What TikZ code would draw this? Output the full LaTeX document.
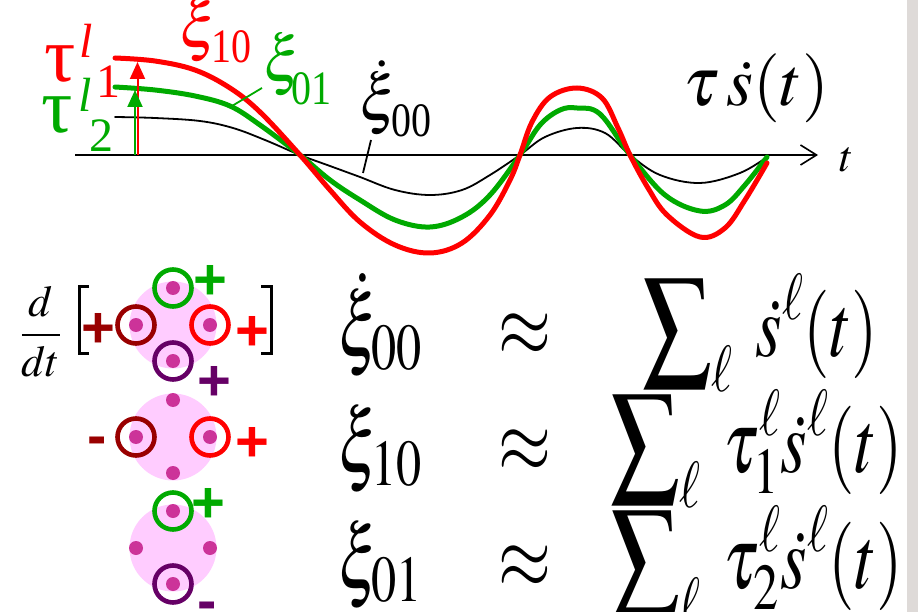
\documentclass[tikz,border=0pt]{standalone}
\usepackage{mathptmx}
\usepackage[no-math]{fontspec}
\setmainfont{Liberation Serif}
\newfontfamily\signfont{Liberation Sans}
\usepackage{graphicx}
\usetikzlibrary{arrows.meta}
\definecolor{wvred}{RGB}{255,0,0}
\definecolor{wvgreen}{RGB}{0,170,0}
\definecolor{wvdarkred}{RGB}{153,0,0}
\definecolor{wvpurple}{RGB}{102,0,102}
\definecolor{wvspot}{RGB}{204,51,153}
\definecolor{wvpink}{RGB}{255,204,255}
\definecolor{wvgrey}{RGB}{222,218,216}
% stretched formula text of the three rows
\newcommand{\eqn}[1]{{\fontsize{68}{80}\selectfont\scalebox{1}[1.3]{$\displaystyle #1$}}}
\newcommand{\lbl}[2]{{\fontsize{#1}{#1}\selectfont$#2$}}
\newcommand{\idxlbl}[1]{\scalebox{1}[1.2]{#1}}

\begin{document}
\begin{tikzpicture}[x=1pt,y=-1pt,
  every node/.style={inner sep=0pt,outer sep=0pt},
  wave/.style={line width=#1,line cap=round,line join=round},
  vec/.style={-{Triangle[length=17pt,width=15pt]},line width=2pt,draw=#1},
  lead/.style={line width=1.8pt,draw=#1},
  spot/.style={circle,fill=wvspot,minimum size=14pt},
  ring/.style={circle,draw=#1,line width=4.6pt,minimum size=37pt},
  sign/.style={anchor=base,text=#1,font=\signfont\bfseries\fontsize{58}{58}\selectfont},
  idx/.style={anchor=base west,text=#1,font=\fontsize{40}{40}\selectfont},
  eq/.style={anchor=base west}
]
\useasboundingbox (0,0) rectangle (918,612);
\fill[wvgrey] (907,0) rectangle (918,612);

% time axis
\coordinate (t0) at (75,155);
\coordinate (t1) at (818,155);
\draw[line width=1.6pt,-{Straight Barb[length=16pt,width=20pt]}] (t0) -- (t1);
\node[eq] (tlab) at (840,172) {\lbl{44}{t}};

% the three responses
\draw[wave=1.8pt] plot[smooth,tension=0.6] coordinates {(115,117) (155,118) (200,121) (233,128) (265,140) (300,155) (330,166) (360,177) (395,190) (430,195) (462,190) (490,175) (520,155) (545,137) (577,128) (605,133) (630,155) (660,175) (700,183) (740,173) (767,157)};
\draw[wave=5pt,wvgreen] plot[smooth,tension=0.6] coordinates {(115,87) (155,90) (195,96) (230,106) (260,125) (300,155) (330,180) (360,200) (395,220) (430,227) (462,217) (490,195) (520,155) (540,125) (560,110) (577,108) (600,114) (630,155) (665,195) (700,211) (725,205) (745,185) (767,157)};
\draw[wave=5pt,wvred] plot[smooth,tension=0.6] coordinates {(115,58) (155,61) (195,70) (230,88) (260,112) (300,155) (330,190) (360,222) (395,245) (430,253) (462,243) (490,215) (510,180) (520,155) (532,122) (550,97) (577,88) (602,98) (618,128) (630,155) (648,188) (667,215) (700,237) (725,228) (745,200) (767,163)};

% offsets
\coordinate (rfoot) at (137.5,155);
\coordinate (rtip) at (137.5,62);
\coordinate (gfoot) at (135,155);
\coordinate (gtip) at (135,90);
\draw[vec=wvred] (rfoot) -- (rtip);
\draw[vec=wvgreen] (gfoot) -- (gtip);

\node[eq,text=wvred] (tauA) at (44,82) {\fontsize{78}{78}\selectfont τ};
\node[eq,text=wvred] (tauAl) at (79,58) {\fontsize{48}{48}\selectfont\itshape l};
\node[eq,text=wvred] (tauAi) at (96,98) {\fontsize{48}{48}\selectfont 1};
\node[eq,text=wvgreen] (tauB) at (41,133) {\fontsize{78}{78}\selectfont τ};
\node[eq,text=wvgreen] (tauBl) at (78,112) {\fontsize{48}{48}\selectfont\itshape l};
\node[eq,text=wvgreen] (tauBi) at (89,152) {\fontsize{48}{48}\selectfont 2};

% curve labels
\node[anchor=south west,text=wvred] (xiA) at (179,62) {\lbl{64}{\xi}};
\node[idx=wvred] (xiAi) at (211,63) {\idxlbl{10}};
\node[anchor=south west,text=wvgreen] (xiB) at (263,96) {\lbl{64}{\xi}};
\node[idx=wvgreen] (xiBi) at (291,105) {\idxlbl{01}};
\node[anchor=south west] (xiC) at (359,135) {\lbl{64}{\dot{\xi}}};
\node[idx=black] (xiCi) at (391,137) {\idxlbl{00}};
\coordinate (gleg) at (232,106);
\coordinate (gend) at (262,88);
\coordinate (kleg) at (363,173);
\coordinate (kend) at (371,140);
\draw[lead=wvgreen] (gleg) -- (gend);
\draw[lead=black] (kleg) -- (kend);
\node[eq] (tslab) at (683,106) {\lbl{69}{\tau\,\dot{s}(t)}};

% derivative and brackets
\node[anchor=base] (ddt) at (41,346) {\lbl{44}{\displaystyle\frac{d}{dt}}};
\draw[line width=3pt] (89,287) -- (79,287) -- (79,353) -- (89,353);
\draw[line width=3pt] (261,287) -- (271,287) -- (271,353) -- (261,353);

% molecules
\foreach \cy/\m in {325/a,437/b,548/c} {
  \fill[wvpink] (173,\cy) circle (43.5);
  \node[spot] (\m n) at (173,\cy-37) {};
  \node[spot] (\m w) at (136,\cy) {};
  \node[spot] (\m e) at (210,\cy) {};
  \node[spot] (\m s) at (173,\cy+36) {};
}
\node[ring=wvgreen] (ran) at (an) {};
\node[ring=wvdarkred] (raw) at (aw) {};
\node[ring=wvred] (rae) at (ae) {};
\node[ring=wvpurple] (ras) at (as) {};
\node[ring=wvdarkred] (rbw) at (bw) {};
\node[ring=wvred] (rbe) at (be) {};
\node[ring=wvgreen] (rcn) at (cn) {};
\node[ring=wvpurple] (rcs) at (cs) {};

\node[sign=wvgreen] (pan) at (210,299) {+};
\node[sign=wvdarkred] (paw) at (98,347) {+};
\node[sign=wvred] (pae) at (252,350) {+};
\node[sign=wvpurple] (pas) at (214,400) {+};
\node[sign=wvdarkred] (pbw) at (97,455) {-};
\node[sign=wvred] (pbe) at (252,461) {+};
\node[sign=wvgreen] (pcn) at (208,522) {+};
\node[sign=wvpurple] (pcs) at (207,620) {-};

% the three approximations
\node[eq] (lhsA) at (338,356) {\eqn{\dot{\xi}_{00}}};
\node[eq] (apxA) at (498,356) {\eqn{\approx}};
\node[eq] (rhsA) at (642,356) {\eqn{\sum\nolimits_{\ell}\;\dot{s}^{\ell}(t)}};
\node[eq] (lhsB) at (338,472) {\eqn{\xi_{10}}};
\node[eq] (apxB) at (498,472) {\eqn{\approx}};
\node[eq] (rhsB) at (610,472) {\eqn{\sum\nolimits_{\ell}\;\tau_{1}^{\ell}\dot{s}^{\ell}(t)}};
\node[eq] (lhsC) at (338,588) {\eqn{\xi_{01}}};
\node[eq] (apxC) at (498,588) {\eqn{\approx}};
\node[eq] (rhsC) at (610,588) {\eqn{\sum\nolimits_{\ell}\;\tau_{2}^{\ell}\dot{s}^{\ell}(t)}};
\end{tikzpicture}
\end{document}
